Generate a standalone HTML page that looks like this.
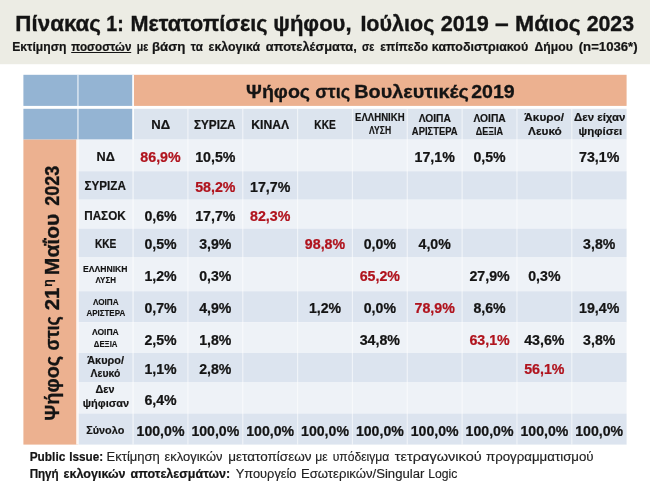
<!DOCTYPE html>
<html lang="el"><head><meta charset="utf-8"><title>Πίνακας 1</title>
<style>
html,body{margin:0;padding:0;background:#fff;}
body{width:650px;height:488px;overflow:hidden;}
svg{display:block;font-family:"Liberation Sans",sans-serif;}
</style></head><body>
<svg width="650" height="488" viewBox="0 0 650 488">
<rect x="0.00" y="0.00" width="650.00" height="64.20" fill="#ecece4"/>
<rect x="23.40" y="74.80" width="109.68" height="31.10" fill="#94b4d3"/>
<rect x="23.40" y="108.80" width="109.68" height="30.80" fill="#94b4d3"/>
<rect x="133.08" y="74.80" width="493.52" height="31.10" fill="#ecb190"/>
<rect x="133.08" y="108.80" width="493.52" height="30.80" fill="#dce4ee"/>
<rect x="23.40" y="139.60" width="54.84" height="305.00" fill="#ecb190"/>
<rect x="78.24" y="139.60" width="548.36" height="31.60" fill="#eef2f7"/>
<rect x="78.24" y="171.20" width="548.36" height="28.50" fill="#dce4ef"/>
<rect x="78.24" y="199.70" width="548.36" height="28.90" fill="#eef2f7"/>
<rect x="78.24" y="228.60" width="548.36" height="28.40" fill="#dce4ef"/>
<rect x="78.24" y="257.00" width="548.36" height="34.20" fill="#eef2f7"/>
<rect x="78.24" y="291.20" width="548.36" height="31.20" fill="#dce4ef"/>
<rect x="78.24" y="322.40" width="548.36" height="30.60" fill="#eef2f7"/>
<rect x="78.24" y="353.00" width="548.36" height="29.00" fill="#dce4ef"/>
<rect x="78.24" y="382.00" width="548.36" height="31.50" fill="#eef2f7"/>
<rect x="78.24" y="413.50" width="548.36" height="31.10" fill="#dce4ef"/>
<rect x="77.24" y="74.80" width="1.40" height="64.80" fill="#fff" opacity="0.7"/>
<rect x="76.24" y="139.60" width="2.40" height="305.00" fill="#fff" opacity="0.9"/>
<rect x="132.23" y="74.80" width="1.70" height="64.80" fill="#fff" opacity="1"/>
<rect x="132.43" y="139.60" width="1.30" height="305.00" fill="#fff" opacity="0.6"/>
<rect x="187.32" y="108.80" width="1.20" height="335.80" fill="#fff" opacity="0.55"/>
<rect x="242.16" y="108.80" width="1.20" height="335.80" fill="#fff" opacity="0.55"/>
<rect x="297.00" y="108.80" width="1.20" height="335.80" fill="#fff" opacity="0.55"/>
<rect x="351.84" y="108.80" width="1.20" height="335.80" fill="#fff" opacity="0.55"/>
<rect x="406.68" y="108.80" width="1.20" height="335.80" fill="#fff" opacity="0.55"/>
<rect x="461.52" y="108.80" width="1.20" height="335.80" fill="#fff" opacity="0.55"/>
<rect x="516.36" y="108.80" width="1.20" height="335.80" fill="#fff" opacity="0.55"/>
<rect x="571.20" y="108.80" width="1.20" height="335.80" fill="#fff" opacity="0.55"/>
<text x="15.35" y="31.00" font-size="21.8" font-weight="bold" fill="#141414" stroke="#141414" stroke-width="0.35" textLength="85.64" lengthAdjust="spacingAndGlyphs">Πίνακας</text>
<text x="106.33" y="31.00" font-size="21.8" font-weight="bold" fill="#141414" stroke="#141414" stroke-width="0.35" textLength="17.39" lengthAdjust="spacingAndGlyphs">1:</text>
<text x="130.39" y="31.00" font-size="21.8" font-weight="bold" fill="#141414" stroke="#141414" stroke-width="0.35" textLength="137.26" lengthAdjust="spacingAndGlyphs">Μετατοπίσεις</text>
<text x="273.28" y="31.00" font-size="21.8" font-weight="bold" fill="#141414" stroke="#141414" stroke-width="0.35" textLength="78.31" lengthAdjust="spacingAndGlyphs">ψήφου,</text>
<text x="360.40" y="31.00" font-size="21.8" font-weight="bold" fill="#141414" stroke="#141414" stroke-width="0.35" textLength="73.95" lengthAdjust="spacingAndGlyphs">Ιούλιος</text>
<text x="440.65" y="31.00" font-size="21.8" font-weight="bold" fill="#141414" stroke="#141414" stroke-width="0.35" textLength="48.23" lengthAdjust="spacingAndGlyphs">2019</text>
<text x="495.06" y="31.00" font-size="21.8" font-weight="bold" fill="#141414" stroke="#141414" stroke-width="0.35" textLength="13.68" lengthAdjust="spacingAndGlyphs">–</text>
<text x="515.00" y="31.00" font-size="21.8" font-weight="bold" fill="#141414" stroke="#141414" stroke-width="0.35" textLength="65.70" lengthAdjust="spacingAndGlyphs">Μάιος</text>
<text x="586.66" y="31.00" font-size="21.8" font-weight="bold" fill="#141414" stroke="#141414" stroke-width="0.35" textLength="47.41" lengthAdjust="spacingAndGlyphs">2023</text>
<text x="12.21" y="51.00" font-size="12.2" font-weight="bold" fill="#141414" stroke="#141414" stroke-width="0.20" textLength="54.23" lengthAdjust="spacingAndGlyphs">Εκτίμηση</text>
<text x="71.27" y="51.00" font-size="12.2" font-weight="bold" fill="#141414" stroke="#141414" stroke-width="0.20" textLength="60.11" lengthAdjust="spacingAndGlyphs">ποσοστών</text>
<rect x="71.20" y="52.00" width="60.00" height="1" fill="#141414"/>
<text x="136.66" y="51.00" font-size="12.2" font-weight="bold" fill="#141414" stroke="#141414" stroke-width="0.20" textLength="11.50" lengthAdjust="spacingAndGlyphs">με</text>
<text x="151.94" y="51.00" font-size="12.2" font-weight="bold" fill="#141414" stroke="#141414" stroke-width="0.20" textLength="33.47" lengthAdjust="spacingAndGlyphs">βάση</text>
<text x="190.84" y="51.00" font-size="12.2" font-weight="bold" fill="#141414" stroke="#141414" stroke-width="0.20" textLength="11.97" lengthAdjust="spacingAndGlyphs">τα</text>
<text x="208.57" y="51.00" font-size="12.2" font-weight="bold" fill="#141414" stroke="#141414" stroke-width="0.20" textLength="51.45" lengthAdjust="spacingAndGlyphs">εκλογικά</text>
<text x="265.75" y="51.00" font-size="12.2" font-weight="bold" fill="#141414" stroke="#141414" stroke-width="0.20" textLength="91.06" lengthAdjust="spacingAndGlyphs">αποτελέσματα,</text>
<text x="361.93" y="51.00" font-size="12.2" font-weight="bold" fill="#141414" stroke="#141414" stroke-width="0.20" textLength="12.33" lengthAdjust="spacingAndGlyphs">σε</text>
<text x="380.18" y="51.00" font-size="12.2" font-weight="bold" fill="#141414" stroke="#141414" stroke-width="0.20" textLength="47.95" lengthAdjust="spacingAndGlyphs">επίπεδο</text>
<text x="431.89" y="51.00" font-size="12.2" font-weight="bold" fill="#141414" stroke="#141414" stroke-width="0.20" textLength="96.37" lengthAdjust="spacingAndGlyphs">καποδιστριακού</text>
<text x="534.61" y="51.00" font-size="12.2" font-weight="bold" fill="#141414" stroke="#141414" stroke-width="0.20" textLength="38.14" lengthAdjust="spacingAndGlyphs">Δήμου</text>
<text x="578.71" y="51.00" font-size="12.2" font-weight="bold" fill="#141414" stroke="#141414" stroke-width="0.20" textLength="58.92" lengthAdjust="spacingAndGlyphs">(n=1036*)</text>
<text x="246.02" y="97.50" font-size="18.7" font-weight="bold" fill="#141414" stroke="#141414" stroke-width="0.30" textLength="64.07" lengthAdjust="spacingAndGlyphs">Ψήφος</text>
<text x="315.17" y="97.50" font-size="18.7" font-weight="bold" fill="#141414" stroke="#141414" stroke-width="0.30" textLength="34.97" lengthAdjust="spacingAndGlyphs">στις</text>
<text x="354.21" y="97.50" font-size="18.7" font-weight="bold" fill="#141414" stroke="#141414" stroke-width="0.30" textLength="114.68" lengthAdjust="spacingAndGlyphs">Βουλευτικές</text>
<text x="471.21" y="97.50" font-size="18.7" font-weight="bold" fill="#141414" stroke="#141414" stroke-width="0.30" textLength="43.49" lengthAdjust="spacingAndGlyphs">2019</text>
<text x="151.25" y="129.30" font-size="12.6" font-weight="bold" fill="#141414" stroke="#141414" stroke-width="0.20" textLength="18.86" lengthAdjust="spacingAndGlyphs">ΝΔ</text>
<text x="193.93" y="129.30" font-size="12.6" font-weight="bold" fill="#141414" stroke="#141414" stroke-width="0.20" textLength="41.63" lengthAdjust="spacingAndGlyphs">ΣΥΡΙΖΑ</text>
<text x="251.31" y="129.30" font-size="12.6" font-weight="bold" fill="#141414" stroke="#141414" stroke-width="0.20" textLength="37.92" lengthAdjust="spacingAndGlyphs">ΚΙΝΑΛ</text>
<text x="314.34" y="129.30" font-size="12.6" font-weight="bold" fill="#141414" stroke="#141414" stroke-width="0.20" textLength="21.44" lengthAdjust="spacingAndGlyphs">ΚΚΕ</text>
<text x="355.09" y="121.00" font-size="10.0" font-weight="bold" fill="#141414" stroke="#141414" stroke-width="0.16" textLength="49.57" lengthAdjust="spacingAndGlyphs">ΕΛΛΗΝΙΚΗ</text>
<text x="369.12" y="134.40" font-size="10.0" font-weight="bold" fill="#141414" stroke="#141414" stroke-width="0.16" textLength="22.02" lengthAdjust="spacingAndGlyphs">ΛΥΣΗ</text>
<text x="418.65" y="121.70" font-size="10.6" font-weight="bold" fill="#141414" stroke="#141414" stroke-width="0.17" textLength="32.28" lengthAdjust="spacingAndGlyphs">ΛΟΙΠΑ</text>
<text x="411.86" y="135.30" font-size="10.6" font-weight="bold" fill="#141414" stroke="#141414" stroke-width="0.17" textLength="45.70" lengthAdjust="spacingAndGlyphs">ΑΡΙΣΤΕΡΑ</text>
<text x="473.49" y="121.70" font-size="10.6" font-weight="bold" fill="#141414" stroke="#141414" stroke-width="0.17" textLength="32.28" lengthAdjust="spacingAndGlyphs">ΛΟΙΠΑ</text>
<text x="475.78" y="135.30" font-size="10.6" font-weight="bold" fill="#141414" stroke="#141414" stroke-width="0.17" textLength="27.36" lengthAdjust="spacingAndGlyphs">ΔΕΞΙΑ</text>
<text x="524.32" y="121.40" font-size="11.3" font-weight="bold" fill="#141414" stroke="#141414" stroke-width="0.18" textLength="39.67" lengthAdjust="spacingAndGlyphs">Άκυρο/</text>
<text x="528.14" y="135.00" font-size="11.3" font-weight="bold" fill="#141414" stroke="#141414" stroke-width="0.18" textLength="33.68" lengthAdjust="spacingAndGlyphs">Λευκό</text>
<text x="574.04" y="121.40" font-size="11.3" font-weight="bold" fill="#141414" stroke="#141414" stroke-width="0.18" textLength="51.43" lengthAdjust="spacingAndGlyphs">Δεν είχαν</text>
<text x="578.51" y="135.00" font-size="11.3" font-weight="bold" fill="#141414" stroke="#141414" stroke-width="0.18" textLength="43.67" lengthAdjust="spacingAndGlyphs">ψηφίσει</text>
<text x="96.57" y="160.60" font-size="12.6" font-weight="bold" fill="#141414" stroke="#141414" stroke-width="0.20" textLength="18.32" lengthAdjust="spacingAndGlyphs">ΝΔ</text>
<text x="84.53" y="190.40" font-size="12.6" font-weight="bold" fill="#141414" stroke="#141414" stroke-width="0.20" textLength="41.32" lengthAdjust="spacingAndGlyphs">ΣΥΡΙΖΑ</text>
<text x="84.24" y="219.60" font-size="12.6" font-weight="bold" fill="#141414" stroke="#141414" stroke-width="0.20" textLength="41.44" lengthAdjust="spacingAndGlyphs">ΠΑΣΟΚ</text>
<text x="94.94" y="248.00" font-size="12.6" font-weight="bold" fill="#141414" stroke="#141414" stroke-width="0.20" textLength="21.44" lengthAdjust="spacingAndGlyphs">ΚΚΕ</text>
<text x="83.04" y="272.40" font-size="9.0" font-weight="bold" fill="#141414" stroke="#141414" stroke-width="0.14" textLength="44.54" lengthAdjust="spacingAndGlyphs">ΕΛΛΗΝΙΚΗ</text>
<text x="95.56" y="283.40" font-size="9.0" font-weight="bold" fill="#141414" stroke="#141414" stroke-width="0.14" textLength="20.37" lengthAdjust="spacingAndGlyphs">ΛΥΣΗ</text>
<text x="92.96" y="305.00" font-size="9.0" font-weight="bold" fill="#141414" stroke="#141414" stroke-width="0.14" textLength="25.62" lengthAdjust="spacingAndGlyphs">ΛΟΙΠΑ</text>
<text x="86.44" y="316.40" font-size="9.0" font-weight="bold" fill="#141414" stroke="#141414" stroke-width="0.14" textLength="38.74" lengthAdjust="spacingAndGlyphs">ΑΡΙΣΤΕΡΑ</text>
<text x="91.96" y="335.30" font-size="9.0" font-weight="bold" fill="#141414" stroke="#141414" stroke-width="0.14" textLength="26.83" lengthAdjust="spacingAndGlyphs">ΛΟΙΠΑ</text>
<text x="93.79" y="346.80" font-size="9.0" font-weight="bold" fill="#141414" stroke="#141414" stroke-width="0.14" textLength="23.69" lengthAdjust="spacingAndGlyphs">ΔΕΞΙΑ</text>
<text x="87.24" y="363.80" font-size="10.4" font-weight="bold" fill="#141414" stroke="#141414" stroke-width="0.17" textLength="36.75" lengthAdjust="spacingAndGlyphs">Άκυρο/</text>
<text x="90.55" y="376.60" font-size="10.4" font-weight="bold" fill="#141414" stroke="#141414" stroke-width="0.17" textLength="29.72" lengthAdjust="spacingAndGlyphs">Λευκό</text>
<text x="95.57" y="393.40" font-size="11.6" font-weight="bold" fill="#141414" stroke="#141414" stroke-width="0.19" textLength="18.98" lengthAdjust="spacingAndGlyphs">Δεν</text>
<text x="82.74" y="407.20" font-size="11.6" font-weight="bold" fill="#141414" stroke="#141414" stroke-width="0.19" textLength="46.41" lengthAdjust="spacingAndGlyphs">ψήφισαν</text>
<text x="86.16" y="433.90" font-size="11.6" font-weight="bold" fill="#141414" stroke="#141414" stroke-width="0.19" textLength="38.13" lengthAdjust="spacingAndGlyphs">Σύνολο</text>
<text x="140.35" y="161.50" font-size="14.9" font-weight="bold" fill="#b0131d" stroke="#b0131d" stroke-width="0.24" textLength="40.30" lengthAdjust="spacingAndGlyphs">86,9%</text>
<text x="195.19" y="161.50" font-size="14.9" font-weight="bold" fill="#141414" stroke="#141414" stroke-width="0.24" textLength="40.30" lengthAdjust="spacingAndGlyphs">10,5%</text>
<text x="414.55" y="161.50" font-size="14.9" font-weight="bold" fill="#141414" stroke="#141414" stroke-width="0.24" textLength="40.30" lengthAdjust="spacingAndGlyphs">17,1%</text>
<text x="473.44" y="161.50" font-size="14.9" font-weight="bold" fill="#141414" stroke="#141414" stroke-width="0.24" textLength="32.20" lengthAdjust="spacingAndGlyphs">0,5%</text>
<text x="579.07" y="161.50" font-size="14.9" font-weight="bold" fill="#141414" stroke="#141414" stroke-width="0.24" textLength="40.30" lengthAdjust="spacingAndGlyphs">73,1%</text>
<text x="195.19" y="191.60" font-size="14.9" font-weight="bold" fill="#b0131d" stroke="#b0131d" stroke-width="0.24" textLength="40.30" lengthAdjust="spacingAndGlyphs">58,2%</text>
<text x="250.03" y="191.60" font-size="14.9" font-weight="bold" fill="#141414" stroke="#141414" stroke-width="0.24" textLength="40.30" lengthAdjust="spacingAndGlyphs">17,7%</text>
<text x="144.40" y="220.50" font-size="14.9" font-weight="bold" fill="#141414" stroke="#141414" stroke-width="0.24" textLength="32.20" lengthAdjust="spacingAndGlyphs">0,6%</text>
<text x="195.19" y="220.50" font-size="14.9" font-weight="bold" fill="#141414" stroke="#141414" stroke-width="0.24" textLength="40.30" lengthAdjust="spacingAndGlyphs">17,7%</text>
<text x="250.03" y="220.50" font-size="14.9" font-weight="bold" fill="#b0131d" stroke="#b0131d" stroke-width="0.24" textLength="40.30" lengthAdjust="spacingAndGlyphs">82,3%</text>
<text x="144.40" y="249.10" font-size="14.9" font-weight="bold" fill="#141414" stroke="#141414" stroke-width="0.24" textLength="32.20" lengthAdjust="spacingAndGlyphs">0,5%</text>
<text x="199.24" y="249.10" font-size="14.9" font-weight="bold" fill="#141414" stroke="#141414" stroke-width="0.24" textLength="32.20" lengthAdjust="spacingAndGlyphs">3,9%</text>
<text x="304.87" y="249.10" font-size="14.9" font-weight="bold" fill="#b0131d" stroke="#b0131d" stroke-width="0.24" textLength="40.30" lengthAdjust="spacingAndGlyphs">98,8%</text>
<text x="363.76" y="249.10" font-size="14.9" font-weight="bold" fill="#141414" stroke="#141414" stroke-width="0.24" textLength="32.20" lengthAdjust="spacingAndGlyphs">0,0%</text>
<text x="418.60" y="249.10" font-size="14.9" font-weight="bold" fill="#141414" stroke="#141414" stroke-width="0.24" textLength="32.20" lengthAdjust="spacingAndGlyphs">4,0%</text>
<text x="583.12" y="249.10" font-size="14.9" font-weight="bold" fill="#141414" stroke="#141414" stroke-width="0.24" textLength="32.20" lengthAdjust="spacingAndGlyphs">3,8%</text>
<text x="144.40" y="281.20" font-size="14.9" font-weight="bold" fill="#141414" stroke="#141414" stroke-width="0.24" textLength="32.20" lengthAdjust="spacingAndGlyphs">1,2%</text>
<text x="199.24" y="281.20" font-size="14.9" font-weight="bold" fill="#141414" stroke="#141414" stroke-width="0.24" textLength="32.20" lengthAdjust="spacingAndGlyphs">0,3%</text>
<text x="359.71" y="281.20" font-size="14.9" font-weight="bold" fill="#b0131d" stroke="#b0131d" stroke-width="0.24" textLength="40.30" lengthAdjust="spacingAndGlyphs">65,2%</text>
<text x="469.39" y="281.20" font-size="14.9" font-weight="bold" fill="#141414" stroke="#141414" stroke-width="0.24" textLength="40.30" lengthAdjust="spacingAndGlyphs">27,9%</text>
<text x="528.28" y="281.20" font-size="14.9" font-weight="bold" fill="#141414" stroke="#141414" stroke-width="0.24" textLength="32.20" lengthAdjust="spacingAndGlyphs">0,3%</text>
<text x="144.40" y="313.00" font-size="14.9" font-weight="bold" fill="#141414" stroke="#141414" stroke-width="0.24" textLength="32.20" lengthAdjust="spacingAndGlyphs">0,7%</text>
<text x="199.24" y="313.00" font-size="14.9" font-weight="bold" fill="#141414" stroke="#141414" stroke-width="0.24" textLength="32.20" lengthAdjust="spacingAndGlyphs">4,9%</text>
<text x="308.92" y="313.00" font-size="14.9" font-weight="bold" fill="#141414" stroke="#141414" stroke-width="0.24" textLength="32.20" lengthAdjust="spacingAndGlyphs">1,2%</text>
<text x="363.76" y="313.00" font-size="14.9" font-weight="bold" fill="#141414" stroke="#141414" stroke-width="0.24" textLength="32.20" lengthAdjust="spacingAndGlyphs">0,0%</text>
<text x="414.55" y="313.00" font-size="14.9" font-weight="bold" fill="#b0131d" stroke="#b0131d" stroke-width="0.24" textLength="40.30" lengthAdjust="spacingAndGlyphs">78,9%</text>
<text x="473.44" y="313.00" font-size="14.9" font-weight="bold" fill="#141414" stroke="#141414" stroke-width="0.24" textLength="32.20" lengthAdjust="spacingAndGlyphs">8,6%</text>
<text x="579.07" y="313.00" font-size="14.9" font-weight="bold" fill="#141414" stroke="#141414" stroke-width="0.24" textLength="40.30" lengthAdjust="spacingAndGlyphs">19,4%</text>
<text x="144.40" y="344.70" font-size="14.9" font-weight="bold" fill="#141414" stroke="#141414" stroke-width="0.24" textLength="32.20" lengthAdjust="spacingAndGlyphs">2,5%</text>
<text x="199.24" y="344.70" font-size="14.9" font-weight="bold" fill="#141414" stroke="#141414" stroke-width="0.24" textLength="32.20" lengthAdjust="spacingAndGlyphs">1,8%</text>
<text x="359.71" y="344.70" font-size="14.9" font-weight="bold" fill="#141414" stroke="#141414" stroke-width="0.24" textLength="40.30" lengthAdjust="spacingAndGlyphs">34,8%</text>
<text x="469.39" y="344.70" font-size="14.9" font-weight="bold" fill="#b0131d" stroke="#b0131d" stroke-width="0.24" textLength="40.30" lengthAdjust="spacingAndGlyphs">63,1%</text>
<text x="524.23" y="344.70" font-size="14.9" font-weight="bold" fill="#141414" stroke="#141414" stroke-width="0.24" textLength="40.30" lengthAdjust="spacingAndGlyphs">43,6%</text>
<text x="583.12" y="344.70" font-size="14.9" font-weight="bold" fill="#141414" stroke="#141414" stroke-width="0.24" textLength="32.20" lengthAdjust="spacingAndGlyphs">3,8%</text>
<text x="144.40" y="373.50" font-size="14.9" font-weight="bold" fill="#141414" stroke="#141414" stroke-width="0.24" textLength="32.20" lengthAdjust="spacingAndGlyphs">1,1%</text>
<text x="199.24" y="373.50" font-size="14.9" font-weight="bold" fill="#141414" stroke="#141414" stroke-width="0.24" textLength="32.20" lengthAdjust="spacingAndGlyphs">2,8%</text>
<text x="524.23" y="373.50" font-size="14.9" font-weight="bold" fill="#b0131d" stroke="#b0131d" stroke-width="0.24" textLength="40.30" lengthAdjust="spacingAndGlyphs">56,1%</text>
<text x="144.40" y="404.50" font-size="14.9" font-weight="bold" fill="#141414" stroke="#141414" stroke-width="0.24" textLength="32.20" lengthAdjust="spacingAndGlyphs">6,4%</text>
<text x="136.55" y="435.80" font-size="14.9" font-weight="bold" fill="#141414" stroke="#141414" stroke-width="0.24" textLength="47.90" lengthAdjust="spacingAndGlyphs">100,0%</text>
<text x="191.39" y="435.80" font-size="14.9" font-weight="bold" fill="#141414" stroke="#141414" stroke-width="0.24" textLength="47.90" lengthAdjust="spacingAndGlyphs">100,0%</text>
<text x="246.23" y="435.80" font-size="14.9" font-weight="bold" fill="#141414" stroke="#141414" stroke-width="0.24" textLength="47.90" lengthAdjust="spacingAndGlyphs">100,0%</text>
<text x="301.07" y="435.80" font-size="14.9" font-weight="bold" fill="#141414" stroke="#141414" stroke-width="0.24" textLength="47.90" lengthAdjust="spacingAndGlyphs">100,0%</text>
<text x="355.91" y="435.80" font-size="14.9" font-weight="bold" fill="#141414" stroke="#141414" stroke-width="0.24" textLength="47.90" lengthAdjust="spacingAndGlyphs">100,0%</text>
<text x="410.75" y="435.80" font-size="14.9" font-weight="bold" fill="#141414" stroke="#141414" stroke-width="0.24" textLength="47.90" lengthAdjust="spacingAndGlyphs">100,0%</text>
<text x="465.59" y="435.80" font-size="14.9" font-weight="bold" fill="#141414" stroke="#141414" stroke-width="0.24" textLength="47.90" lengthAdjust="spacingAndGlyphs">100,0%</text>
<text x="520.43" y="435.80" font-size="14.9" font-weight="bold" fill="#141414" stroke="#141414" stroke-width="0.24" textLength="47.90" lengthAdjust="spacingAndGlyphs">100,0%</text>
<text x="575.27" y="435.80" font-size="14.9" font-weight="bold" fill="#141414" stroke="#141414" stroke-width="0.24" textLength="47.90" lengthAdjust="spacingAndGlyphs">100,0%</text>
<text x="29.63" y="460.60" font-size="12.0" font-weight="bold" fill="#141414" stroke="#141414" stroke-width="0.19" textLength="35.68" lengthAdjust="spacingAndGlyphs">Public</text>
<text x="69.24" y="460.60" font-size="12.0" font-weight="bold" fill="#141414" stroke="#141414" stroke-width="0.19" textLength="33.85" lengthAdjust="spacingAndGlyphs">Issue:</text>
<text x="106.56" y="460.60" font-size="12.0" font-weight="normal" fill="#222222" stroke="#222222" stroke-width="0.14" textLength="53.24" lengthAdjust="spacingAndGlyphs">Εκτίμηση</text>
<text x="164.61" y="460.60" font-size="12.0" font-weight="normal" fill="#222222" stroke="#222222" stroke-width="0.14" textLength="57.84" lengthAdjust="spacingAndGlyphs">εκλογικών</text>
<text x="228.32" y="460.60" font-size="12.0" font-weight="normal" fill="#222222" stroke="#222222" stroke-width="0.14" textLength="83.15" lengthAdjust="spacingAndGlyphs">μετατοπίσεων</text>
<text x="315.21" y="460.60" font-size="12.0" font-weight="normal" fill="#222222" stroke="#222222" stroke-width="0.14" textLength="12.38" lengthAdjust="spacingAndGlyphs">με</text>
<text x="332.67" y="460.60" font-size="12.0" font-weight="normal" fill="#222222" stroke="#222222" stroke-width="0.14" textLength="56.67" lengthAdjust="spacingAndGlyphs">υπόδειγμα</text>
<text x="394.85" y="460.60" font-size="12.0" font-weight="normal" fill="#222222" stroke="#222222" stroke-width="0.14" textLength="86.83" lengthAdjust="spacingAndGlyphs">τετραγωνικού</text>
<text x="486.04" y="460.60" font-size="12.0" font-weight="normal" fill="#222222" stroke="#222222" stroke-width="0.14" textLength="107.59" lengthAdjust="spacingAndGlyphs">προγραμματισμού</text>
<text x="29.64" y="478.30" font-size="12.0" font-weight="bold" fill="#141414" stroke="#141414" stroke-width="0.19" textLength="29.06" lengthAdjust="spacingAndGlyphs">Πηγή</text>
<text x="63.56" y="478.30" font-size="12.0" font-weight="bold" fill="#141414" stroke="#141414" stroke-width="0.19" textLength="61.95" lengthAdjust="spacingAndGlyphs">εκλογικών</text>
<text x="130.56" y="478.30" font-size="12.0" font-weight="bold" fill="#141414" stroke="#141414" stroke-width="0.19" textLength="99.60" lengthAdjust="spacingAndGlyphs">αποτελεσμάτων:</text>
<text x="235.74" y="478.30" font-size="12.0" font-weight="normal" fill="#222222" stroke="#222222" stroke-width="0.14" textLength="60.78" lengthAdjust="spacingAndGlyphs">Υπουργείο</text>
<text x="300.95" y="478.30" font-size="12.0" font-weight="normal" fill="#222222" stroke="#222222" stroke-width="0.14" textLength="123.42" lengthAdjust="spacingAndGlyphs">Εσωτερικών/Singular</text>
<text x="428.23" y="478.30" font-size="12.0" font-weight="normal" fill="#222222" stroke="#222222" stroke-width="0.14" textLength="29.08" lengthAdjust="spacingAndGlyphs">Logic</text>
<g transform="translate(58.9,0) rotate(-90)"><text x="-420.69" y="0.00" font-size="21.0" font-weight="bold" fill="#141414" stroke="#141414" stroke-width="0.34" textLength="64.79" lengthAdjust="spacingAndGlyphs">Ψήφος</text><text x="-350.52" y="0.00" font-size="21.0" font-weight="bold" fill="#141414" stroke="#141414" stroke-width="0.34" textLength="34.35" lengthAdjust="spacingAndGlyphs">στις</text><text x="-310.31" y="0.00" font-size="21.0" font-weight="bold" fill="#141414" stroke="#141414" stroke-width="0.34" textLength="22.64" lengthAdjust="spacingAndGlyphs">21</text><text x="-286.71" y="-7.40" font-size="12.8" font-weight="bold" fill="#141414" stroke="#141414" stroke-width="0.20" textLength="7.45" lengthAdjust="spacingAndGlyphs">η</text><text x="-275.17" y="0.00" font-size="21.0" font-weight="bold" fill="#141414" stroke="#141414" stroke-width="0.34" textLength="61.55" lengthAdjust="spacingAndGlyphs">Μαΐου</text><text x="-205.74" y="0.00" font-size="21.0" font-weight="bold" fill="#141414" stroke="#141414" stroke-width="0.34" textLength="40.09" lengthAdjust="spacingAndGlyphs">2023</text></g>
</svg>
</body></html>
